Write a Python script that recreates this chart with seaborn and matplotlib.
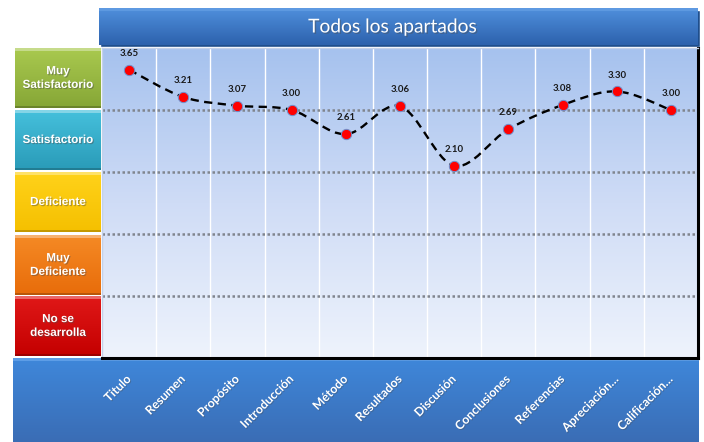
import numpy as np
import pandas as pd
import matplotlib
matplotlib.use("Agg")
import matplotlib.pyplot as plt
import seaborn as sns
from matplotlib.path import Path
from matplotlib.patches import PathPatch, Rectangle
import matplotlib.patheffects as pe
from matplotlib.colors import LinearSegmentedColormap

categories = ["Titulo", "Resumen", "Propósito", "Introducción", "Método",
              "Resultados", "Discusión", "Conclusiones", "Referencias",
              "Apreciación…", "Calificación…"]
values = [3.65, 3.21, 3.07, 3.00, 2.61, 3.06, 2.10, 2.69, 3.08, 3.30, 3.00]
band_labels = ["Muy\nSatisfactorio", "Satisfactorio", "Deficiente",
               "Muy\nDeficiente", "No se\ndesarrolla"]
band_colors = [("#a9c94f", "#86a636"), ("#45c0dc", "#2a9bb8"),
               ("#ffd21a", "#f5c000"), ("#f58a25", "#e86c0a"),
               ("#e01818", "#c40000")]
title = "Todos los apartados"

sns.set_theme(style="white")
plt.rcParams['font.family'] = ['Lato', 'DejaVu Sans']

W, H = 704, 442
fig = plt.figure(figsize=(W / 100, H / 100), dpi=100)
fig.patch.set_facecolor("white")

# background axes in pixel coordinates
bg = fig.add_axes([0, 0, 1, 1])
bg.set_xlim(0, W)
bg.set_ylim(H, 0)
bg.axis("off")


def grad_rect(x0, y0, x1, y1, c_top, c_bot, z=1):
    cmap = LinearSegmentedColormap.from_list("g", [c_top, c_bot])
    g = np.linspace(0, 1, 64).reshape(-1, 1)
    bg.imshow(g, cmap=cmap, extent=[x0, x1, y1, y0], aspect="auto",
              zorder=z, interpolation="bilinear")


# title bar
bg.add_patch(Rectangle((100, 10), 600, 37, facecolor="#1f4e8c", zorder=0))
grad_rect(99, 8, 698, 45, "#4f8fdc", "#2d62ad")
bg.add_patch(Rectangle((99, 8), 599, 3, facecolor="#6aa2e6", alpha=0.6, zorder=2, lw=0))
bg.text(392, 27, title, color="white", fontsize=13.8, ha="center", va="center",
        zorder=3, path_effects=[pe.withSimplePatchShadow(offset=(1, -1), alpha=0.4)])

# bottom bar
grad_rect(13, 358, 699, 442, "#3f87da", "#3a6db5")
bg.add_patch(Rectangle((13, 358), 686, 3, facecolor="#5d9de6", zorder=2, lw=0))

# left band boxes
box_tops = [48, 110, 172, 235, 296]
for (lab, (ct, cb), yt) in zip(band_labels, band_colors, box_tops):
    grad_rect(15, yt, 101, yt + 60, ct, cb)
    bg.add_patch(Rectangle((15, yt), 86, 3, facecolor="white", alpha=0.35, zorder=2, lw=0))
    bg.add_patch(Rectangle((15, yt + 58), 86, 2, facecolor="black", alpha=0.2, zorder=2, lw=0))
    bg.text(58, yt + 30, lab, color="white", fontsize=8.4, fontweight="bold",
            family=["Liberation Sans", "DejaVu Sans"], ha="center", va="center",
            linespacing=1.2, zorder=3,
            path_effects=[pe.withSimplePatchShadow(offset=(0.8, -0.8), alpha=0.45)])

# main plot axes
ax = fig.add_axes([102 / W, 1 - 358 / H, 596 / W, 310 / H])
ax.set_facecolor("none")
cmap = LinearSegmentedColormap.from_list("plotbg", ["#a6c2ee", "#cfdcf6", "#eef3fc"])
ax.imshow(np.linspace(0, 1, 128).reshape(-1, 1), cmap=cmap, extent=[0, 1, 0, 1],
          transform=ax.transAxes, aspect="auto", zorder=0, interpolation="bilinear")

df = pd.DataFrame({"x": np.arange(len(categories)), "value": values})

ax.set_xlim(-0.5, len(categories) - 0.5)
ax.set_ylim(-1, 4)

# vertical white separators, horizontal dotted gridlines
for xb in np.arange(0.5, len(categories) - 0.5, 1):
    ax.axvline(xb, color="white", lw=1.0, zorder=1)
for yg in [0, 1, 2, 3]:
    ax.axhline(yg, color="#80858e", lw=1.8, ls=(0, (1, 1)), zorder=1)

# smooth dashed line (Catmull-Rom -> Bezier) through the data points
xs = df["x"].to_numpy(dtype=float)
ys = df["value"].to_numpy(dtype=float)
pts = np.column_stack([xs, ys])
verts = [pts[0]]
codes = [Path.MOVETO]
n = len(pts)
for i in range(n - 1):
    p0 = pts[i - 1] if i > 0 else pts[i]
    p1 = pts[i]
    p2 = pts[i + 1]
    p3 = pts[i + 2] if i + 2 < n else pts[i + 1]
    c1 = p1 + (p2 - p0) / 6.0
    c2 = p2 - (p3 - p1) / 6.0
    verts += [c1, c2, p2]
    codes += [Path.CURVE4] * 3
ax.add_patch(PathPatch(Path(verts, codes), facecolor="none", edgecolor="black",
                       lw=1.7, ls=(0, (3.5, 2.3)), zorder=3, capstyle="butt"))

sns.scatterplot(data=df, x="x", y="value", ax=ax, s=55, color="#ff0000",
                edgecolor="#6f8fcc", linewidth=0.7, zorder=4, legend=False)

for xv, yv in zip(xs, ys):
    ax.annotate(f"{yv:.2f}", (xv, yv), xytext=(0, 8.5), textcoords="offset points",
                ha="center", va="bottom", fontsize=6.9, fontweight="bold",
                color="#1a1a1a", zorder=5)

ax.set_xticks(xs)
ax.set_xticklabels(categories, rotation=45, ha="right", va="center",
                   rotation_mode="anchor", color="white", fontsize=8.8,
                   fontweight="bold")
for t in ax.get_xticklabels():
    t.set_path_effects([pe.withSimplePatchShadow(offset=(0.7, -0.7), alpha=0.35)])
ax.tick_params(axis="x", length=0, pad=14)
ax.set_yticks([])
ax.set_xlabel("")
ax.set_ylabel("")

for side in ["left", "top"]:
    ax.spines[side].set_color("#c3d1ea")
    ax.spines[side].set_linewidth(1.0)
for side in ["right", "bottom"]:
    ax.spines[side].set_color("black")
    ax.spines[side].set_linewidth(2.2)
    ax.spines[side].set_visible(True)
ax.spines["left"].set_visible(True)
ax.spines["top"].set_visible(True)

fig.savefig("out.png", dpi=100)
